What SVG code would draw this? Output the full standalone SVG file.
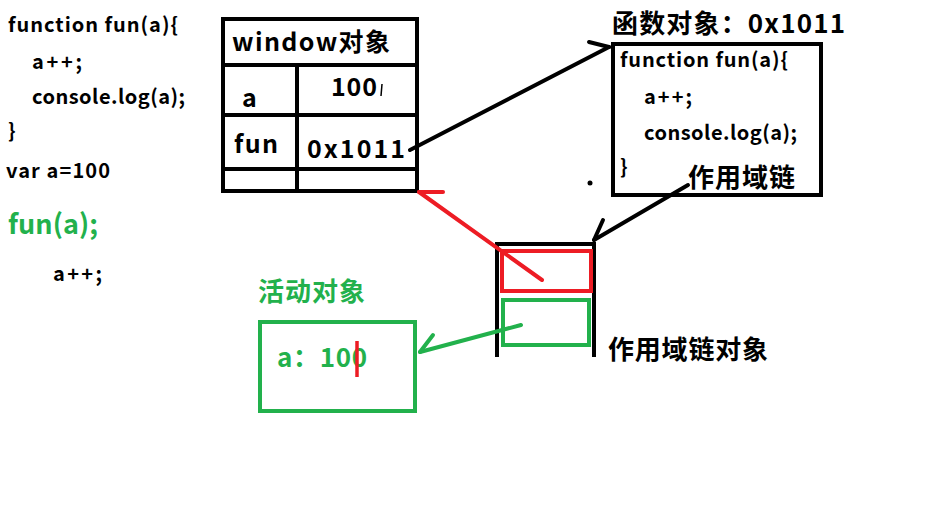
<svg xmlns="http://www.w3.org/2000/svg" width="947" height="532" viewBox="0 0 947 532">
<style>
text{font-family:"Noto Sans CJK SC","Noto Sans",sans-serif;font-weight:bold;fill:#000}
.g{fill:#22b14c}
.box{fill:none;stroke:#000;stroke-width:4}
.ln{fill:none;stroke-width:4;stroke-linecap:round}
.k{stroke:#000}.r{stroke:#ed1c24}.gr{stroke:#22b14c}
.c{font-size:20px}
</style>
<rect width="947" height="532" fill="#fff"/>
<g id="code">
<text class="c" x="8" y="32" textLength="170">function fun(a){</text>
<text class="c" x="32" y="69" textLength="50">a++;</text>
<text class="c" x="32" y="104" textLength="153">console.log(a);</text>
<text class="c" x="8" y="138">}</text>
<text class="c" x="6" y="178" textLength="104">var a=100</text>
<text class="g" x="8" y="234" font-size="27" textLength="90">fun(a);</text>
<text class="c" x="53" y="281" textLength="49">a++;</text>
</g>
<g id="window">
<rect class="box" x="223" y="19" width="194" height="172"/>
<line class="box" x1="223" y1="65" x2="417" y2="65"/>
<line class="box" x1="223" y1="115" x2="417" y2="115"/>
<line class="box" x1="223" y1="169" x2="417" y2="169"/>
<line class="box" x1="297" y1="65" x2="297" y2="191"/>
<text x="232" y="51" font-size="25" textLength="158">window对象</text>
<text x="242" y="107" font-size="25">a</text>
<text x="331" y="96" font-size="25" textLength="46">100</text>
<line x1="382" y1="84" x2="381" y2="96" stroke="#000" stroke-width="1.5"/>
<text x="234" y="153" font-size="25" textLength="44">fun</text>
<text x="307" y="158" font-size="25" textLength="98">0x1011</text>
</g>
<g id="funobj">
<text x="612" y="33" font-size="26" textLength="233">函数对象：0x1011</text>
<rect class="box" x="613" y="44" width="208" height="151"/>
<text class="c" x="620" y="67" textLength="168">function fun(a){</text>
<text class="c" x="644" y="104" textLength="48">a++;</text>
<text class="c" x="644" y="140" textLength="153">console.log(a);</text>
<text class="c" x="620" y="174">}</text>
<text x="688" y="187" font-size="26" textLength="107">作用域链</text>
<circle cx="590" cy="183" r="2.5" fill="#000"/>
</g>
<g id="scopechain">
<polyline class="box" points="497,357 497,244 594,244 594,357"/>
<rect x="502" y="251" width="89" height="40" fill="none" stroke="#ed1c24" stroke-width="4"/>
<rect x="503" y="300" width="86" height="45" fill="none" stroke="#22b14c" stroke-width="4"/>
<text x="608" y="359" font-size="26" textLength="160">作用域链对象</text>
</g>
<g id="activeobj">
<text class="g" x="258" y="301" font-size="26" textLength="107">活动对象</text>
<rect x="260" y="322" width="155" height="89" fill="none" stroke="#22b14c" stroke-width="4"/>
<text class="g" x="277" y="367" font-size="26" textLength="90">a：100</text>
<line x1="357" y1="341" x2="357" y2="377" stroke="#ed1c24" stroke-width="3.5"/>
</g>
<g id="connectors">
<line class="ln k" x1="410" y1="150" x2="609" y2="47"/>
<line class="ln k" x1="589" y1="42" x2="609" y2="47"/>
<line class="ln k" x1="688" y1="185" x2="594" y2="240"/>
<line class="ln k" x1="603" y1="220" x2="594" y2="240"/>
<line class="ln r" x1="542" y1="280" x2="419" y2="192"/>
<line class="ln r" x1="443" y1="192" x2="419" y2="192"/>
<line class="ln gr" x1="521" y1="325" x2="420" y2="352"/>
<line class="ln gr" x1="433" y1="335" x2="420" y2="352"/>
</g>
</svg>
